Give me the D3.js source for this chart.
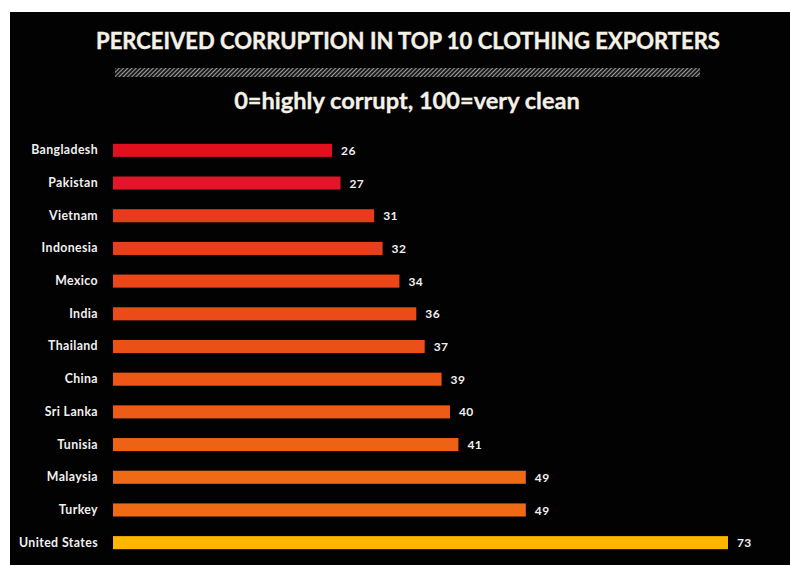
<!DOCTYPE html>
<html>
<head>
<meta charset="utf-8">
<script src="https://cdn.jsdelivr.net/npm/d3@7/dist/d3.min.js"></script>
<style>
  html, body { margin: 0; padding: 0; background: #ffffff; }
  svg { display: block; }
</style>
</head>
<body>
<svg id="chart" width="790" height="565"></svg>
<script>
// Corruption Perceptions Index scores for the top clothing exporters
const countries = ["Bangladesh", "Pakistan", "Vietnam", "Indonesia", "Mexico", "India",
  "Thailand", "China", "Sri Lanka", "Tunisia", "Malaysia", "Turkey", "United States"];
const scores = [26, 27, 31, 32, 34, 36, 37, 39, 40, 41, 49, 49, 73];
const barColors = ["#e0101f", "#e2152a", "#e63c1c", "#e8411a", "#e94718", "#ea4b18",
  "#eb5017", "#ec5616", "#ed5c16", "#ee6215", "#ef6a14", "#ef6a14", "#fbb600"];

const titleText = "PERCEIVED CORRUPTION IN TOP 10 CLOTHING EXPORTERS";
const subtitleText = "0=highly corrupt, 100=very clean";

const svg = d3.select("#chart");
const W = 790, H = 565;
const font = "Lato, 'Open Sans', sans-serif";

// dark panel
svg.append("rect").attr("x", 10).attr("y", 12).attr("width", W - 10).attr("height", H - 12)
  .attr("fill", "#020203");

// diagonal stripe pattern for the rule under the title
const defs = svg.append("defs");
const pat = defs.append("pattern").attr("id", "hatch")
  .attr("patternUnits", "userSpaceOnUse").attr("width", 3).attr("height", 3)
  .attr("patternTransform", "rotate(45)");
pat.append("rect").attr("width", 3).attr("height", 3).attr("fill", "#1a1a1a");
pat.append("line").attr("x1", 0).attr("y1", 0).attr("x2", 0).attr("y2", 3)
  .attr("stroke", "#d8d8d8").attr("stroke-width", 1.4);

svg.append("text").attr("x", 408).attr("y", 49).attr("text-anchor", "middle")
  .attr("font-family", font).attr("font-weight", 700)
  .attr("font-size", 22).attr("fill", "#f4f1e6")
  .attr("stroke", "#f4f1e6").attr("stroke-width", 0.4)
  .text(titleText);

svg.append("rect").attr("x", 115).attr("y", 68).attr("width", 585).attr("height", 9)
  .attr("fill", "url(#hatch)");

svg.append("text").attr("x", 407).attr("y", 109).attr("text-anchor", "middle")
  .attr("font-family", font).attr("font-weight", 700)
  .attr("font-size", 23.6).attr("fill", "#f4f1e6")
  .attr("stroke", "#f4f1e6").attr("stroke-width", 0.3)
  .text(subtitleText);

// scales
const x = d3.scaleLinear().domain([0, 73]).range([113, 728]);
const y = d3.scaleBand().domain(countries).range([134, 559]).paddingInner(0.6).paddingOuter(0.3);

const data = countries.map((c, i) => ({ country: c, value: scores[i], color: barColors[i] }));

svg.append("g").selectAll("rect").data(data).join("rect")
  .attr("x", x(0))
  .attr("y", d => y(d.country))
  .attr("width", d => x(d.value) - x(0))
  .attr("height", y.bandwidth())
  .attr("fill", d => d.color);

// category labels
const yAxis = d3.axisLeft(y).tickSize(0).tickPadding(15);
const gAxis = svg.append("g").attr("transform", `translate(${x(0)},0)`).call(yAxis);
gAxis.select(".domain").remove();
gAxis.selectAll("text")
  .attr("font-family", font).attr("font-weight", 700)
  .attr("font-size", 12.3).attr("letter-spacing", 0.4).attr("fill", "#f0f0f0");

// value labels
svg.append("g").selectAll("text").data(data).join("text")
  .attr("x", d => x(d.value) + 9)
  .attr("y", d => y(d.country) + y.bandwidth() / 2)
  .attr("dy", "0.38em")
  .attr("font-family", font).attr("font-weight", 700)
  .attr("font-size", 12).attr("letter-spacing", 0.4).attr("fill", "#f0f0f0")
  .text(d => d.value);
</script>
</body>
</html>
